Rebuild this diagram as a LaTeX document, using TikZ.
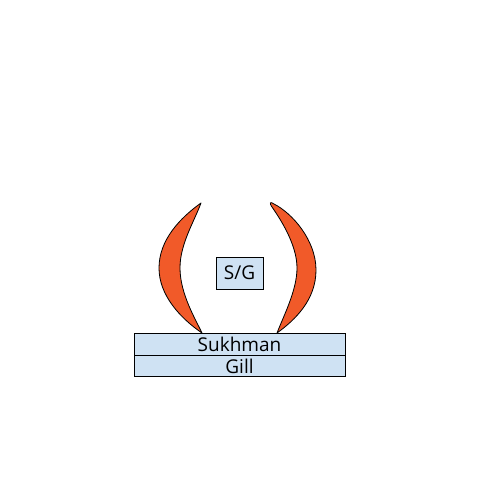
\documentclass[tikz,border=0pt]{standalone}
\usepackage{fontspec}
\setmainfont{Open Sans}
\definecolor{leaforange}{HTML}{F15A29}
\definecolor{barblue}{HTML}{CFE2F3}
\begin{document}
\begin{tikzpicture}[x=1pt,y=-1pt,
	bar/.style={draw,fill=barblue,line width=0.8pt,inner sep=0pt,font=\fontsize{19}{19}\selectfont},
	leaf/.style={draw,fill=leaforange,line width=0.8pt,line join=round}]
	\useasboundingbox (0,0) rectangle (480,500);
	\draw[leaf] (201,203) .. controls (180,218) and (159,240) .. (159,268) .. controls (159,295) and (180,318) .. (202,333)
		.. controls (196,320) and (180,294) .. (180,268) .. controls (180,244) and (194,222) .. (201,203) -- cycle;
	\draw[leaf] (274,204) .. controls (292,213) and (316,240) .. (316,270) .. controls (316,300) and (295,320) .. (277,333)
		.. controls (284,315) and (297,290) .. (297,268) .. controls (297,245) and (281,220) .. (272,207)
		.. controls (269,203) and (270,201) .. (274,204) -- cycle;
	\node[bar,minimum width=47pt,minimum height=32pt] (sg) at (239.5,273) {S/G};
	\node[bar,minimum width=211pt,minimum height=22pt] (sukhman) at (239.5,344) {Sukhman};
	\node[bar,minimum width=211pt,minimum height=21pt,anchor=north] (gill) at (sukhman.south) {Gill};
\end{tikzpicture}
\end{document}
